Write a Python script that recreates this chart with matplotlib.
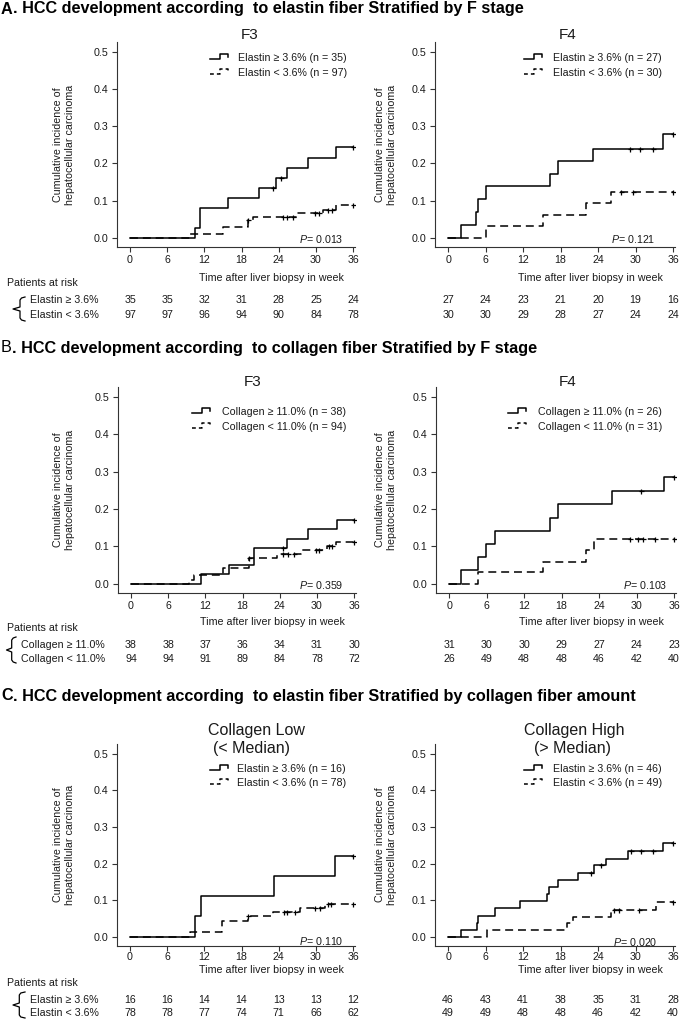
import numpy as np
import matplotlib
matplotlib.use('Agg')
import matplotlib.pyplot as plt
from matplotlib.lines import Line2D
from matplotlib.transforms import blended_transform_factory

plt.rcParams['font.family'] = ['Liberation Sans', 'DejaVu Sans']
plt.rcParams['mathtext.fontset'] = 'custom'
plt.rcParams['mathtext.it'] = 'Liberation Sans:italic'
plt.rcParams['mathtext.rm'] = 'Liberation Sans'

# ---- data ----
week_ticks = [0, 6, 12, 18, 24, 30, 36]
y_ticks = [0.0, 0.1, 0.2, 0.3, 0.4, 0.5]

# A. elastin, F3
a3_hi_t = [0, 10.5, 11.3, 15.8, 20.8, 23.6, 25.4, 28.7, 33.2, 36]
a3_hi_y = [0, 0.027, 0.080, 0.107, 0.133, 0.160, 0.187, 0.215, 0.243, 0.243]
a3_hi_cens = [23.0, 24.4, 36]
a3_lo_t = [0, 9.7, 15.0, 19.1, 19.8, 27.0, 31.2, 33.3, 36]
a3_lo_y = [0, 0.011, 0.029, 0.047, 0.057, 0.066, 0.075, 0.087, 0.087]
a3_lo_cens = [19.1, 24.7, 25.4, 26.3, 29.9, 30.5, 32.0, 32.6, 36]
a3_risk_hi = [35, 35, 32, 31, 28, 25, 24]
a3_risk_lo = [97, 97, 96, 94, 90, 84, 78]

# A. elastin, F4
a4_hi_t = [0, 2.05, 4.5, 4.8, 6.0, 16.3, 17.6, 23.2, 34.3, 36]
a4_hi_y = [0, 0.035, 0.070, 0.104, 0.138, 0.172, 0.206, 0.240, 0.280, 0.280]
a4_hi_cens = [29.1, 30.7, 32.8, 36]
a4_lo_t = [0, 6.1, 15.2, 22.0, 26.1, 36]
a4_lo_y = [0, 0.031, 0.062, 0.093, 0.124, 0.124]
a4_lo_cens = [27.7, 29.5, 36]
a4_risk_hi = [27, 24, 23, 21, 20, 19, 16]
a4_risk_lo = [30, 30, 29, 28, 27, 24, 24]

# B. collagen, F3
b3_hi_t = [0, 11.3, 15.8, 19.9, 25.2, 28.6, 33.2, 36]
b3_hi_y = [0, 0.026, 0.051, 0.096, 0.121, 0.146, 0.171, 0.171]
b3_hi_cens = [24.5, 36]
b3_lo_t = [0, 9.3, 10.2, 14.8, 19.0, 23.6, 27.4, 31.6, 33.1, 36]
b3_lo_y = [0, 0.011, 0.022, 0.043, 0.070, 0.079, 0.089, 0.100, 0.111, 0.111]
b3_lo_cens = [19.1, 24.5, 25.4, 26.3, 29.8, 30.4, 31.9, 32.5, 36]
b3_risk_hi = [38, 38, 37, 36, 34, 31, 30]
b3_risk_lo = [94, 94, 91, 89, 84, 78, 72]

# B. collagen, F4
b4_hi_t = [0, 1.9, 4.6, 5.9, 7.3, 16.1, 17.4, 26.1, 34.3, 36]
b4_hi_y = [0, 0.036, 0.071, 0.107, 0.142, 0.177, 0.213, 0.248, 0.286, 0.286]
b4_hi_cens = [30.7, 36]
b4_lo_t = [0, 4.6, 15.0, 21.9, 23.1, 36]
b4_lo_y = [0, 0.030, 0.059, 0.089, 0.119, 0.119]
b4_lo_cens = [29.0, 30.2, 31.0, 33.0, 36]
b4_risk_hi = [31, 30, 30, 29, 27, 24, 23]
b4_risk_lo = [26, 49, 48, 48, 46, 42, 40]

# C. elastin, collagen low
cl_hi_t = [0, 10.5, 11.4, 23.2, 33.1, 36]
cl_hi_y = [0, 0.056, 0.111, 0.166, 0.221, 0.221]
cl_hi_cens = [36]
cl_lo_t = [0, 9.7, 14.9, 19.1, 23.1, 27.4, 31.5, 36]
cl_lo_y = [0, 0.013, 0.044, 0.056, 0.067, 0.079, 0.091, 0.091]
cl_lo_cens = [19.1, 24.8, 25.4, 26.6, 29.9, 30.7, 31.9, 32.4, 36]
cl_risk_hi = [16, 16, 14, 14, 13, 13, 12]
cl_risk_lo = [78, 78, 77, 74, 71, 66, 62]

# C. elastin, collagen high
ch_hi_t = [0, 2.0, 4.55, 4.8, 7.5, 11.5, 15.8, 16.2, 17.5, 20.8, 23.4, 25.2, 28.7, 34.4, 36]
ch_hi_y = [0, 0.020, 0.039, 0.058, 0.078, 0.099, 0.117, 0.135, 0.155, 0.175, 0.195, 0.214, 0.235, 0.256, 0.256]
ch_hi_cens = [22.9, 24.4, 29.2, 30.8, 32.7, 36]
ch_lo_t = [0, 6.2, 19.0, 19.9, 26.0, 33.2, 36]
ch_lo_y = [0, 0.020, 0.038, 0.054, 0.073, 0.094, 0.094]
ch_lo_cens = [26.6, 27.4, 30.5, 36]
ch_risk_hi = [46, 43, 41, 38, 35, 31, 28]
ch_risk_lo = [49, 49, 48, 48, 46, 42, 40]

elastin_rows = ['Elastin \u2265 3.6%', 'Elastin < 3.6%']
collagen_rows = ['Collagen \u2265 11.0%', 'Collagen < 11.0%']

W, H = 685, 1019
fig = plt.figure(figsize=(6.85, 10.19), dpi=100)
TXT = '#1a1a1a'
FS = 7.7
DASH = (0, (5.2, 3.2))


def fx(x):
    return x / W


def fy(y):
    return 1 - y / H


def km_panel(box, title_xy, hi, lo, legend_labels, leg, pval, pxy, ylab_x, xpad=2.5):
    l, t, r, b = box
    ax = fig.add_axes([fx(l), fy(b), (r - l) / W, (b - t) / H])
    for (tt, yy, cens), ls in [(hi, '-'), (lo, DASH)]:
        tt = np.array(tt)
        yy = np.array(yy)
        ax.step(tt, yy, where='post', color='black', lw=1.1, linestyle=ls)
        idx = np.searchsorted(tt, cens, side='right') - 1
        ax.plot(cens, yy[idx], linestyle='none', marker='+', ms=3.6, mew=0.9, color='black')
    ax.set_xlim(-2.1, 36.3)
    ax.set_ylim(-0.025, 0.527)
    ax.set_xticks(week_ticks)
    ax.set_yticks(y_ticks)
    ax.set_yticklabels(['%.1f' % v for v in y_ticks])
    for s in ['top', 'right']:
        ax.spines[s].set_visible(False)
    for s in ['left', 'bottom']:
        ax.spines[s].set_color('#333333')
        ax.spines[s].set_linewidth(0.8)
    ax.tick_params(length=3.5, width=0.8, color='#333333', labelsize=FS, labelcolor=TXT, pad=2.5)
    ax.tick_params(axis='x', pad=xpad)
    ax.patch.set_alpha(0)

    # titles
    for txt, (cx, cy), fs in title_xy:
        fig.text(fx(cx), fy(cy), txt, ha='center', va='center', fontsize=fs, color=TXT)

    # legend with step-shaped keys
    sx0, tx, y1, y2 = leg
    for (yy, ls, lab) in [(y1, '-', legend_labels[0]), (y2, (0, (2.5, 2.0)), legend_labels[1])]:
        xs = [sx0, sx0 + 10, sx0 + 10, sx0 + 18, sx0 + 18]
        ys = [yy + 1, yy + 1, yy - 4, yy - 4, yy - 1]
        fig.add_artist(Line2D([fx(v) for v in xs], [fy(v) for v in ys], color='black', lw=1.1,
                              linestyle=ls))
        fig.text(fx(tx), fy(yy), lab, ha='left', va='center', fontsize=FS, color=TXT)

    fig.text(fx(pxy[0]), fy(pxy[1]), r'$\mathit{P}$= ' + pval, ha='right', va='center',
             fontsize=FS, color=TXT)
    fig.text(fx(ylab_x), fy((t + b) / 2), 'Cumulative incidence of\nhepatocellular carcinoma',
             rotation=90, ha='center', va='center', fontsize=FS, color=TXT, linespacing=1.15)
    return ax


def risk_table(ax, risk_hi, risk_lo, row_y, xlab_y):
    tr = blended_transform_factory(ax.transData, fig.transFigure)
    for yy, vals in zip(row_y, [risk_hi, risk_lo]):
        for w, v in zip(week_ticks, vals):
            ax.text(w, fy(yy), str(v), transform=tr, ha='center', va='center', fontsize=FS, color=TXT)
    ax.text(22.8, fy(xlab_y), 'Time after liver biopsy in week', transform=tr, ha='center',
            va='center', fontsize=FS, color=TXT)


def row_labels(labels, lab_x, row_y, par_y, brace):
    fig.text(fx(7), fy(par_y), 'Patients at risk', ha='left', va='center', fontsize=FS, color=TXT)
    for yy, lab in zip(row_y, labels):
        fig.text(fx(lab_x), fy(yy), lab, ha='left', va='center', fontsize=FS, color=TXT)
    xl, xv, xr, top, mid, bot = brace
    xs = [xr, xv + 1.5, xv, xv, xl, xv, xv, xv + 1.5, xr]
    ys = [top, top + 1, top + 3, mid - 2, mid, mid + 2, bot - 3, bot - 1, bot]
    fig.add_artist(Line2D([fx(v) for v in xs], [fy(v) for v in ys], color='black', lw=0.9))


def section_title(letter, rest, y, letter_bold=True):
    t1 = fig.text(fx(1), fy(y), letter, ha='left', va='center', fontsize=11.7,
                  fontweight='bold' if letter_bold else 'normal', color='black')
    fig.canvas.draw()
    bb = t1.get_window_extent()
    fig.text(bb.x1 / fig.bbox.width, fy(y), rest, ha='left', va='center', fontsize=11.7,
             fontweight='bold', color='black')


# ---- section A ----
section_title('A', '. HCC development according  to elastin fiber Stratified by F stage', 9)
ax = km_panel((117, 42, 355, 247), [('F3', (250, 35), 11)],
              (a3_hi_t, a3_hi_y, a3_hi_cens), (a3_lo_t, a3_lo_y, a3_lo_cens),
              ['Elastin \u2265 3.6% (n = 35)', 'Elastin < 3.6% (n = 97)'],
              (210, 238, 58, 73), '0.013', (343, 239), 64)
risk_table(ax, a3_risk_hi, a3_risk_lo, (300, 315), 278)
ax = km_panel((435, 42, 675, 247), [('F4', (568, 35), 11)],
              (a4_hi_t, a4_hi_y, a4_hi_cens), (a4_lo_t, a4_lo_y, a4_lo_cens),
              ['Elastin \u2265 3.6% (n = 27)', 'Elastin < 3.6% (n = 30)'],
              (524, 553, 58, 73), '0.121', (655, 239), 386)
risk_table(ax, a4_risk_hi, a4_risk_lo, (300, 315), 278)
row_labels(elastin_rows, 30, (300, 315), 283, (13, 20, 25, 297, 309, 321))

# ---- section B ----
section_title('B', '. HCC development according  to collagen fiber Stratified by F stage', 348, False)
ax = km_panel((118, 387, 356, 593), [('F3', (253, 382), 11)],
              (b3_hi_t, b3_hi_y, b3_hi_cens), (b3_lo_t, b3_lo_y, b3_lo_cens),
              ['Collagen \u2265 11.0% (n = 38)', 'Collagen < 11.0% (n = 94)'],
              (192, 222, 412, 427), '0.359', (343, 585), 64)
risk_table(ax, b3_risk_hi, b3_risk_lo, (645, 659), 622)
ax = km_panel((436, 387, 676, 593), [('F4', (568, 382), 11)],
              (b4_hi_t, b4_hi_y, b4_hi_cens), (b4_lo_t, b4_lo_y, b4_lo_cens),
              ['Collagen \u2265 11.0% (n = 26)', 'Collagen < 11.0% (n = 31)'],
              (508, 538, 412, 427), '0.103', (667, 585), 386)
risk_table(ax, b4_risk_hi, b4_risk_lo, (645, 659), 622)
row_labels(collagen_rows, 21, (645, 659), 628, (6.5, 11.7, 16, 637, 650, 663))

# ---- section C ----
section_title('C', '. HCC development according  to elastin fiber Stratified by collagen fiber amount', 696)
ax = km_panel((117, 744, 355, 946),
              [('Collagen Low', (256, 730), 11.5), ('(< Median)', (251.5, 749), 11.5)],
              (cl_hi_t, cl_hi_y, cl_hi_cens), (cl_lo_t, cl_lo_y, cl_lo_cens),
              ['Elastin \u2265 3.6% (n = 16)', 'Elastin < 3.6% (n = 78)'],
              (210, 237, 769, 783), '0.110', (343, 941), 64, xpad=0.8)
risk_table(ax, cl_risk_hi, cl_risk_lo, (1000, 1013), 970)
ax = km_panel((435, 744, 675, 946),
              [('Collagen High', (574, 730), 11.5), ('(> Median)', (573, 749), 11.5)],
              (ch_hi_t, ch_hi_y, ch_hi_cens), (ch_lo_t, ch_lo_y, ch_lo_cens),
              ['Elastin \u2265 3.6% (n = 46)', 'Elastin < 3.6% (n = 49)'],
              (524, 553, 769, 783), '0.020', (657, 942), 386, xpad=0.8)
risk_table(ax, ch_risk_hi, ch_risk_lo, (1000, 1013), 970)
row_labels(elastin_rows, 30, (1000, 1013), 983, (13, 19.3, 25, 992, 1005, 1018))

fig.savefig('out.png', dpi=100, facecolor='white')
